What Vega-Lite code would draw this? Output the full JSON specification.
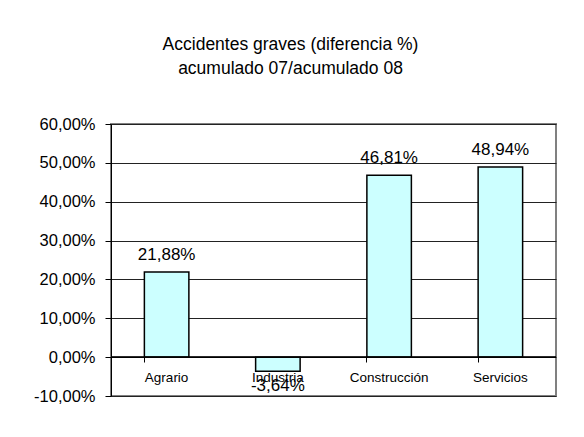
{
  "$schema": "https://vega.github.io/schema/vega-lite/v6.json",
  "width": 445,
  "height": 272,
  "autosize": {"type": "none"},
  "padding": {"left": 111, "top": 124, "right": 28, "bottom": 41},
  "background": "white",
  "config": {
    "locale": {"number": {"decimal": ",", "thousands": ".", "grouping": [3], "currency": ["", " €"], "minus": "-"}},
    "font": "Liberation Sans",
    "view": {"stroke": "#808080", "strokeWidth": 2},
    "title": {"fontSize": 17.5, "fontWeight": "normal", "color": "black", "font": "Liberation Sans"},
    "axis": {"labelOverlap": false, "labelBound": false, "labelFlush": false},
    "axisY": {
      "title": null,
      "format": ".2%",
      "values": [-0.1, 0, 0.1, 0.2, 0.3, 0.4, 0.5, 0.6],
      "labelOverlap": false,
      "grid": true,
      "gridColor": "#222",
      "gridWidth": 1,
      "domainColor": "black",
      "domainWidth": 1,
      "ticks": true,
      "tickColor": "black",
      "tickSize": 6,
      "tickWidth": 1,
      "labelFontSize": 16.5,
      "labelColor": "black",
      "labelPadding": 10,
      "labelFont": "Liberation Sans"
    }
  },
  "title": {
    "text": ["Accidentes graves (diferencia %)", "acumulado 07/acumulado 08"],
    "dx": -43,
    "offset": 39,
    "lineHeight": 24
  },
  "data": {
    "values": [
      {"sector": "Agrario", "valor": 0.2188},
      {"sector": "Industria", "valor": -0.0364},
      {"sector": "Construcción", "valor": 0.4681},
      {"sector": "Servicios", "valor": 0.4894}
    ]
  },
  "encoding": {
    "x": {
      "field": "sector",
      "type": "nominal",
      "sort": null,
      "scale": {"paddingInner": 0.6, "paddingOuter": 0.3},
      "axis": {
        "title": null,
        "orient": "bottom",
        "offset": -39,
        "bandPosition": 0,
        "labels": false,
        "domain": false,
        "grid": false,
        "ticks": true,
        "tickColor": "black",
        "tickSize": 5,
        "tickWidth": 1
      }
    }
  },
  "layer": [
    {
      "mark": {"type": "bar", "fill": "#CCFFFF", "stroke": "black", "strokeWidth": 1.5},
      "encoding": {
        "y": {
          "field": "valor",
          "type": "quantitative",
          "scale": {"domain": [-0.1, 0.6], "nice": false}
        }
      }
    },
    {
      "mark": {"type": "rule", "color": "black", "strokeWidth": 1},
      "encoding": {"y": {"datum": 0}, "x": null}
    },
    {
      "mark": {"type": "text", "fontSize": 13.5, "color": "black", "baseline": "middle", "dy": 21},
      "encoding": {"y": {"datum": 0}, "text": {"field": "sector"}}
    },
    {
      "transform": [{"filter": "datum.valor >= 0"}],
      "mark": {"type": "text", "fontSize": 17, "color": "black", "baseline": "bottom", "dy": -8},
      "encoding": {"y": {"field": "valor", "type": "quantitative"}, "text": {"field": "valor", "type": "quantitative", "format": ".2%"}}
    },
    {
      "transform": [{"filter": "datum.valor < 0"}],
      "mark": {"type": "text", "fontSize": 17, "color": "black", "baseline": "top", "dy": 7},
      "encoding": {"y": {"field": "valor", "type": "quantitative"}, "text": {"field": "valor", "type": "quantitative", "format": ".2%"}}
    }
  ]
}
